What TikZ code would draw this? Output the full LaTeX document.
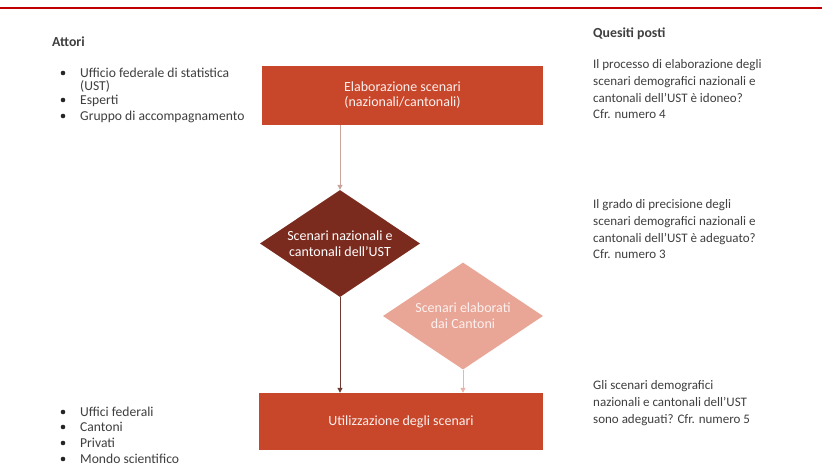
\documentclass[tikz,border=0pt]{standalone}
\usepackage{fontspec}
\setmainfont{Carlito}
\usetikzlibrary{shapes.geometric,arrows.meta}
\definecolor{txt}{HTML}{3F3F3F}
\definecolor{boxred}{HTML}{C8462A}
\definecolor{darkdia}{HTML}{7B2A1E}
\definecolor{lightdia}{HTML}{E9A595}
\definecolor{topline}{HTML}{C00000}
\definecolor{lineA}{HTML}{C9A49C}
\definecolor{lineB}{HTML}{6E3A32}
\definecolor{lineC}{HTML}{EAB4AA}
\tikzset{
  lbl/.style={anchor=base west, inner sep=0pt, text=txt, font=\fontsize{13.6}{16.5}\selectfont},
  head/.style={lbl, font=\fontsize{13.8}{16.5}\selectfont\bfseries},
  blt/.style={circle, fill=black!85, inner sep=0pt, minimum size=4.6pt},
  para/.style={anchor=north west, inner sep=0pt, text=txt, align=left, font=\fontsize{13}{16.9}\selectfont},
  procbox/.style={rectangle, fill=boxred, text=white!92!boxred, align=center, inner sep=0pt, font=\fontsize{14}{15}\selectfont},
  dia/.style={diamond, aspect=1.5, inner sep=0pt, align=center, font=\fontsize{14}{16}\selectfont, minimum width=160pt, minimum height=107pt},
  conn/.style={line width=1pt, -{Triangle[length=5pt,width=5pt]}}
}
\begin{document}
\begin{tikzpicture}[x=1pt,y=-1pt]
\useasboundingbox (0,0) rectangle (822,472);
\fill[white] (0,0) rectangle (822,472);
\draw[topline, line width=1.6pt] (0,8) -- (822,8);

% left column
\node[head] (attori) at (52,46) {Attori};
\node[blt] (b1) at (63,73) {};
\node[lbl] (t1) at (80,77) {Ufficio federale di statistica};
\node[lbl] (t1b) at (80,90) {(UST)};
\node[blt] (b2) at (63,100) {};
\node[lbl] (t2) at (80,104) {Esperti};
\node[blt] (b3) at (63,116) {};
\node[lbl] (t3) at (80,120) {Gruppo di accompagnamento};

\node[blt] (b4) at (63,412) {};
\node[lbl] (t4) at (80,416) {Uffici federali};
\node[blt] (b5) at (63,427) {};
\node[lbl] (t5) at (80,431) {Cantoni};
\node[blt] (b6) at (63,443) {};
\node[lbl] (t6) at (80,447) {Privati};
\node[blt] (b7) at (63,459) {};
\node[lbl] (t7) at (80,463) {Mondo scientifico};

% right column
\node[head] (quesiti) at (593,37) {Quesiti posti};
\node[para] (q1) at (593,59) {Il processo di elaborazione degli\\scenari demografici nazionali e\\cantonali dell'UST è idoneo?\\Cfr. numero 4};
\node[para] (q2) at (593,199) {Il grado di precisione degli\\scenari demografici nazionali e\\cantonali dell'UST è adeguato?\\Cfr. numero 3};
\node[para] (q3) at (593,380) {Gli scenari demografici\\nazionali e cantonali dell'UST\\sono adeguati? Cfr. numero 5};

% flow
\node[procbox, minimum width=281pt, minimum height=59pt] (elab) at (402.5,95.5) {Elaborazione scenari\\(nazionali/cantonali)};
\node[dia, fill=darkdia, text=white] (ust) at (340,243.5) {Scenari nazionali e\\cantonali dell'UST};
\node[dia, fill=lightdia, text=white!85!lightdia] (cant) at (463,316) {Scenari elaborati\\dai Cantoni};
\node[procbox, minimum width=284pt, minimum height=57pt] (util) at (401,421.5) {Utilizzazione degli scenari};

\draw[conn, lineA] (elab.south -| ust.north) -- (ust.north);
\draw[conn, lineB] (ust.south) -- (ust.south |- util.north);
\draw[conn, lineC] (cant.south) -- (cant.south |- util.north);
\end{tikzpicture}
\end{document}
